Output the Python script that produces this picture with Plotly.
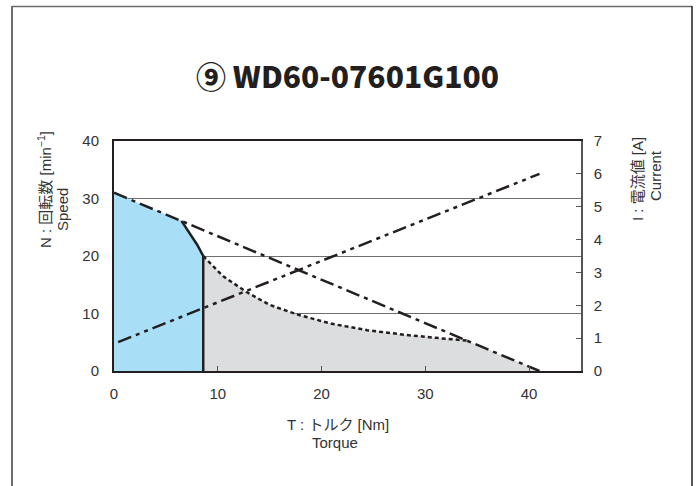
import plotly.graph_objects as go

# ---- data ----
speed_T = [0, 41]
speed_N = [31, 0]

current_T = [0.4, 41]
current_I = [0.88, 6.0]

cont_T = [0, 6.5, 7.3, 8.0, 8.6]
cont_N = [31, 26.1, 24.0, 22.0, 20]

short_T = [8.6, 10.5, 12.8, 15.0, 17.7, 21.0, 24.4, 28.0, 31.4, 34.0]
short_N = [20, 16.5, 13.7, 11.5, 9.8, 8.2, 7.1, 6.3, 5.7, 5.3]

x_ticks = [0, 10, 20, 30, 40]
y_ticks = [0, 10, 20, 30, 40]
y2_ticks = [0, 1, 2, 3, 4, 5, 6, 7]

BLUE = "#a9def7"
GRAY = "#dcdddf"
INK = "#231f20"
TICKFONT = dict(family="Liberation Sans, Arial", size=15, color="#333333")
LABFONT = dict(family="Liberation Sans, Noto Sans CJK JP", size=15, color="#333333")

fig = go.Figure()

# gray (short-time) region
gray_x = [short_T[0]] + short_T + [speed_T[1], short_T[0]]
gray_y = [0] + short_N + [speed_N[1], 0]
fig.add_trace(go.Scatter(x=gray_x, y=gray_y, fill="toself", fillcolor=GRAY,
                         mode="none", hoverinfo="skip", showlegend=False))

# blue (continuous) region
blue_x = [0] + cont_T + [cont_T[-1], 0]
blue_y = [0] + cont_N + [0, 0]
fig.add_trace(go.Scatter(x=blue_x, y=blue_y, fill="toself", fillcolor=BLUE,
                         mode="none", hoverinfo="skip", showlegend=False))

# continuous boundary (solid knee + vertical)
fig.add_trace(go.Scatter(x=cont_T[1:] + [cont_T[-1]], y=cont_N[1:] + [0], mode="lines",
                         line=dict(color=INK, width=2.5), showlegend=False))

# short-time dotted curve
fig.add_trace(go.Scatter(x=short_T, y=short_N, mode="lines",
                         line=dict(color=INK, width=2.5, dash="4px,3px"), showlegend=False))

# speed line (dash-dot)
fig.add_trace(go.Scatter(x=speed_T, y=speed_N, mode="lines",
                         line=dict(color=INK, width=2.5, dash="14px,5px,4px,5px"), showlegend=False))

# current line (dash-dot-dot) on right axis
fig.add_trace(go.Scatter(x=current_T, y=current_I, mode="lines", yaxis="y2",
                         line=dict(color=INK, width=2.5, dash="14px,5px,4px,5px,4px,5px"),
                         showlegend=False))

W, H = 699, 486
L, R, T, B = 114, 118, 141, 115

fig.update_layout(
    width=W, height=H,
    margin=dict(l=L, r=R, t=T, b=B),
    paper_bgcolor="white", plot_bgcolor="white",
    showlegend=False,
    xaxis=dict(range=[0, 45], tickvals=x_ticks, ticks="inside", ticklen=5, tickcolor="#555",
               showgrid=False, zeroline=False, showline=True, linecolor=INK, linewidth=2,
               mirror=True, tickfont=TICKFONT, ticklabelstandoff=8),
    yaxis=dict(range=[0, 40], tickvals=y_ticks, ticks="", showgrid=True, gridcolor="#6d6e71",
               gridwidth=1, zeroline=False, showline=True, linecolor=INK, linewidth=2,
               tickfont=TICKFONT, ticklabelstandoff=10),
    yaxis2=dict(range=[0, 7], tickvals=y2_ticks, overlaying="y", side="right",
                ticks="inside", ticklen=5, tickcolor="#555", showgrid=False, zeroline=False,
                showline=True, linecolor="#555", linewidth=1.5, tickfont=TICKFONT,
                ticklabelstandoff=8),
)

# title
fig.add_annotation(text="⑨ WD60-07601G100", xref="paper", yref="paper",
                   x=0.5, y=1, yshift=T - 75, xanchor="center", yanchor="middle",
                   showarrow=False,
                   font=dict(family="Noto Sans CJK JP, DejaVu Sans", size=30, color=INK, weight=900))

# axis titles
fig.add_annotation(text="N : 回転数 [min<sup>−1</sup>]", xref="paper", yref="paper",
                   x=0, xshift=-70, y=1, yshift=-49, textangle=-90, showarrow=False,
                   xanchor="center", yanchor="middle", font=LABFONT)
fig.add_annotation(text="Speed", xref="paper", yref="paper",
                   x=0, xshift=-52, y=1, yshift=-69, textangle=-90, showarrow=False,
                   xanchor="center", yanchor="middle", font=LABFONT)
fig.add_annotation(text="I : 電流値 [A]", xref="paper", yref="paper",
                   x=1, xshift=56, y=1, yshift=-38, textangle=-90, showarrow=False,
                   xanchor="center", yanchor="middle", font=LABFONT)
fig.add_annotation(text="Current", xref="paper", yref="paper",
                   x=1, xshift=74, y=1, yshift=-35, textangle=-90, showarrow=False,
                   xanchor="center", yanchor="middle", font=LABFONT)
fig.add_annotation(text="T : トルク [Nm]", xref="paper", yref="paper",
                   x=0, xshift=338 - L, y=0, yshift=-(424 - (H - B)), showarrow=False,
                   xanchor="center", yanchor="middle", font=LABFONT)
fig.add_annotation(text="Torque", xref="paper", yref="paper",
                   x=0, xshift=335 - L, y=0, yshift=-(442 - (H - B)), showarrow=False,
                   xanchor="center", yanchor="middle", font=LABFONT)

# outer frame (decoration)
pw, ph = W - L - R, H - T - B
def px(x):
    return (x - L) / pw
def py(y):
    return (H - B - y) / ph
fig.add_shape(type="line", xref="paper", yref="paper", x0=px(12), x1=px(12), y0=py(6), y1=py(H + 5),
              line=dict(color="#6d6e71", width=2))
fig.add_shape(type="line", xref="paper", yref="paper", x0=px(12), x1=px(692), y0=py(6.5), y1=py(6.5),
              line=dict(color="#6d6e71", width=1.5))
fig.add_shape(type="line", xref="paper", yref="paper", x0=px(692), x1=px(692), y0=py(6), y1=py(H + 5),
              line=dict(color=INK, width=1.5))

fig.write_html("out.html")
